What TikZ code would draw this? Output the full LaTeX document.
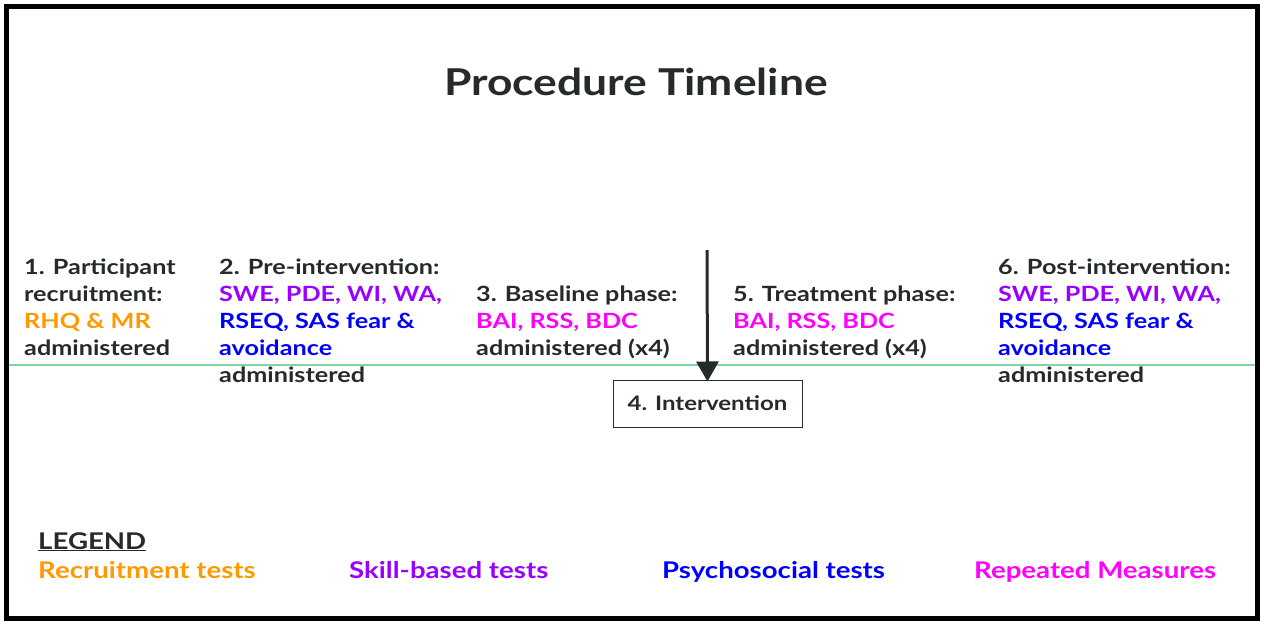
\documentclass[tikz,border=0pt]{standalone}
\usepackage{fontspec}
\setmainfont{Lato}[FakeStretch=1.2]
\usepackage{tikz}
\usetikzlibrary{arrows.meta,positioning}
\definecolor{inkgray}{HTML}{262A2B}
\definecolor{recorange}{HTML}{FF9900}
\definecolor{skillpurple}{HTML}{9900FF}
\definecolor{psyblue}{HTML}{0000FF}
\definecolor{repmagenta}{HTML}{FF00FF}
\definecolor{tlgreen}{HTML}{7FD6A4}
\newcommand{\rec}[1]{\textcolor{recorange}{#1}}
\newcommand{\skl}[1]{\textcolor{skillpurple}{#1}}
\newcommand{\psy}[1]{\textcolor{psyblue}{#1}}
\newcommand{\rep}[1]{\textcolor{repmagenta}{#1}}

\begin{document}
\begin{tikzpicture}[x=1pt, y=-1pt, >=Triangle,
    every node/.style={text=inkgray, font=\bfseries},
    phase/.style={anchor=north west, align=left, inner sep=0pt,
      font=\bfseries\fontsize{21}{27}\selectfont},
    legenditem/.style={anchor=base west, inner sep=0pt, font=\bfseries\fontsize{23}{26}\selectfont}]
    \useasboundingbox (0,0) rectangle (1264,624);
    \fill[white] (0,0) rectangle (1264,624);
    \draw[line width=5pt] (6,6) rectangle (1257,618);
    \node (title) at (636,82) {\fontsize{37}{44}\selectfont Procedure Timeline};
    % timeline
    \coordinate (tlstart) at (9,365);
    \coordinate (tlend) at (1255,365);
    \draw[tlgreen, line width=1.5pt] (tlstart) -- (tlend);
    % phases
    \node[phase] (recruit) at (24,259)
      {1. Participant\\recruitment:\\\rec{RHQ \& MR}\\administered};
    \node[phase] (preint) at (219,259)
      {2. Pre-intervention:\\\skl{SWE, PDE, WI, WA,}\\\psy{RSEQ, SAS fear \&}\\\psy{avoidance}\\administered};
    \node[phase] (baseline) at (476,286)
      {3. Baseline phase:\\\rep{BAI, RSS, BDC}\\administered (x4)};
    \node[phase] (treat) at (733,286)
      {5. Treatment phase:\\\rep{BAI, RSS, BDC}\\administered (x4)};
    \node[phase] (postint) at (998,259)
      {6. Post-intervention:\\\skl{SWE, PDE, WI, WA,}\\\psy{RSEQ, SAS fear \&}\\\psy{avoidance}\\administered};
    % intervention
    \node[draw=inkgray, line width=1pt, minimum width=189pt, minimum height=47pt,
      font=\bfseries\fontsize{20}{24}\selectfont] (interv) at (707.5,403.5) {4. Intervention};
    \coordinate (armtop) at (707,250);
    \draw[-{Triangle[length=20pt,width=22pt]}, inkgray, line width=3pt] (armtop) -- ([yshift=-2pt]interv.north);
    % legend
    \node[legenditem] (legend) at (38,549) {\underline{LEGEND}};
    \node[legenditem, text=recorange] (lrec) at (38,578) {Recruitment tests};
    \node[legenditem, text=skillpurple] (lskill) at (349,578) {Skill-based tests};
    \node[legenditem, text=psyblue] (lpsy) at (662,578) {Psychosocial tests};
    \node[legenditem, text=repmagenta] (lrep) at (974,578) {Repeated Measures};
\end{tikzpicture}
\end{document}
